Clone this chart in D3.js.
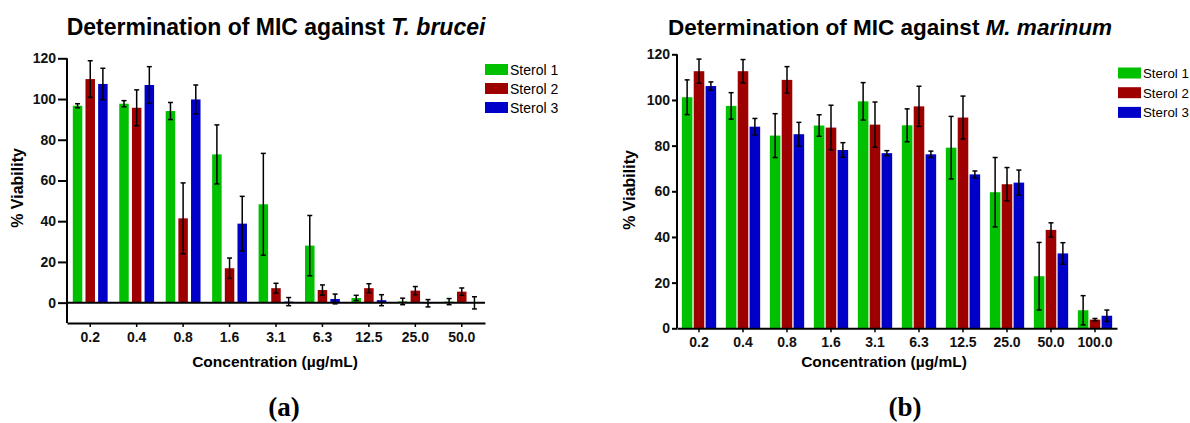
<!DOCTYPE html>
<html>
<head>
<meta charset="utf-8">
<script src="https://cdn.jsdelivr.net/npm/d3@7"></script>
<style>
  body { margin: 0; background: #fff; }
</style>
</head>
<body>
<svg id="fig" width="1190" height="423" style="font-family: Arial, 'Liberation Sans', sans-serif"></svg>
<script>
// concentrations (µg/mL)
const concA = ["0.2", "0.4", "0.8", "1.6", "3.1", "6.3", "12.5", "25.0", "50.0"]
const concB = ["0.2", "0.4", "0.8", "1.6", "3.1", "6.3", "12.5", "25.0", "50.0", "100.0"]
const sterols = ["Sterol 1", "Sterol 2", "Sterol 3"]
const yTicks = [0, 20, 40, 60, 80, 100, 120]

// T. brucei % viability, mean and error
const bruceiS1 = [96.7, 97.7, 94.1, 72.8, 48.3, 28.0, 2.3, 0.6, 0.5]
const bruceiS1Err = [1.0, 1.5, 4.2, 14.5, 25.0, 14.8, 1.3, 1.6, 1.5]
const bruceiS2 = [109.8, 95.7, 41.4, 16.9, 7.1, 6.2, 7.1, 5.9, 5.4]
const bruceiS2Err = [9.0, 8.8, 17.4, 5.0, 2.4, 2.5, 2.2, 2.0, 1.8]
const bruceiS3 = [107.4, 106.9, 99.8, 38.8, 0.5, 1.8, 1.2, -0.3, -0.1]
const bruceiS3Err = [7.7, 9.0, 7.1, 13.4, 2.0, 2.4, 2.7, 1.8, 3.0]

// M. marinum % viability, mean and error
const marinumS1 = [101.2, 97.4, 84.4, 88.8, 99.4, 88.9, 79.1, 59.6, 22.8, 7.9]
const marinumS1Err = [7.6, 5.8, 9.6, 4.7, 8.2, 7.2, 13.7, 15.2, 14.8, 6.4]
const marinumS2 = [112.6, 112.6, 108.8, 87.9, 89.2, 97.2, 92.3, 63.1, 43.1, 3.8]
const marinumS2Err = [5.3, 5.1, 5.8, 9.8, 9.9, 8.8, 9.4, 7.3, 3.1, 0.5]
const marinumS3 = [106.1, 88.3, 85.0, 78.1, 76.7, 76.2, 67.4, 63.8, 32.8, 5.5]
const marinumS3Err = [1.8, 3.6, 5.2, 3.2, 1.1, 1.4, 1.5, 5.5, 4.7, 2.5]

const colors = ["#00c000", "#9e0000", "#0000c8"]

const svg = d3.select("#fig")

function drawChart(cfg) {
    const g = svg.append("g")

    // build rows from the arrays
    let rows = []
    cfg.cats.forEach((c, i) => {
        cfg.series.forEach((s, j) => {
            rows.push({ cat: c, sterol: sterols[j], v: s[i], e: cfg.errs[j][i], k: j })
        })
    })

    /* Scales */
    let x0 = d3.scaleBand()
        .domain(cfg.cats)
        .range(cfg.xRange)
        .paddingInner(cfg.padGroup)
        .paddingOuter(cfg.padGroup / 2)

    let x1 = d3.scaleBand()
        .domain(sterols)
        .range([0, x0.bandwidth()])
        .paddingInner(cfg.padBar)

    let y = d3.scaleLinear()
        .domain(cfg.yDomain)
        .range(cfg.yRange)

    /* Bars */
    g.append("g")
        .selectAll("rect")
        .data(rows)
        .enter()
            .append("rect")
                .attr("fill", (d) => colors[d.k])
                .attr("x", (d) => x0(d.cat) + x1(d.sterol))
                .attr("width", x1.bandwidth())
                .attr("y", (d) => y(Math.max(0, d.v)))
                .attr("height", (d) => Math.abs(y(d.v) - y(0)))

    /* Error bars */
    let eb = g.append("g")
        .attr("stroke", "#000")
        .attr("stroke-width", 1.5)
        .selectAll("g")
        .data(rows)
        .enter()
            .append("g")
                .attr("transform", (d) => "translate(" + (x0(d.cat) + x1(d.sterol) + x1.bandwidth() / 2) + ",0)")
    eb.append("line")
        .attr("y1", (d) => y(d.v + d.e))
        .attr("y2", (d) => y(d.v - d.e))
    eb.append("line")
        .attr("x1", -2.5).attr("x2", 2.5)
        .attr("y1", (d) => y(d.v + d.e)).attr("y2", (d) => y(d.v + d.e))
    eb.append("line")
        .attr("x1", -2.5).attr("x2", 2.5)
        .attr("y1", (d) => y(d.v - d.e)).attr("y2", (d) => y(d.v - d.e))

    /* Zero line (when axis goes below zero) */
    if (cfg.yDomain[0] < 0) {
        g.append("line")
            .attr("x1", cfg.xRange[0]).attr("x2", cfg.xRange[1])
            .attr("y1", y(0)).attr("y2", y(0))
            .attr("stroke", "#000").attr("stroke-width", 2)
    }

    /* Y axis */
    let yAxis = g.append("g")
        .attr("transform", "translate(" + cfg.xRange[0] + ",0)")
        .call(d3.axisLeft(y).tickValues(yTicks).tickSize(cfg.yTickSize).tickPadding(2).tickSizeOuter(0))
    yAxis.select(".domain").attr("stroke-width", 2)
        .attr("d", "M0," + y(cfg.yDomain[1]) + "V" + y(cfg.yDomain[0]))
    yAxis.selectAll(".tick line").attr("stroke-width", 2)

    /* X axis */
    let xAxis = g.append("g")
        .attr("transform", "translate(0," + y(cfg.yDomain[0]) + ")")
        .call(d3.axisBottom(x0).tickSize(4).tickPadding(5).tickSizeOuter(0))
    xAxis.select(".domain").attr("stroke-width", 2)
    xAxis.selectAll(".tick line").attr("stroke-width", 1.5)

    g.selectAll(".tick text")
        .attr("font-family", "Arial, 'Liberation Sans', sans-serif")
        .attr("font-size", 14)
        .attr("font-weight", "bold")
        .attr("fill", "#111")

    /* Titles */
    let title = g.append("text")
        .attr("x", cfg.titleX).attr("y", 35)
        .attr("text-anchor", "middle")
        .attr("font-size", cfg.titleSize).attr("font-weight", "bold")
    title.append("tspan").text("Determination of MIC against ")
    title.append("tspan").attr("font-style", "italic").text(cfg.organism)

    g.append("text")
        .attr("transform", "translate(" + cfg.yLabelX + "," + cfg.yLabelY + ") rotate(-90)")
        .attr("text-anchor", "middle")
        .attr("dominant-baseline", "central")
        .attr("font-size", 16).attr("font-weight", "bold")
        .text("% Viability")

    g.append("text")
        .attr("x", cfg.xLabelX).attr("y", 367)
        .attr("text-anchor", "middle")
        .attr("font-size", 15.5).attr("font-weight", "bold")
        .text("Concentration (\u00b5g/mL)")

    g.append("text")
        .attr("x", cfg.panelX).attr("y", 416)
        .attr("text-anchor", "middle")
        .style("font-family", "'Liberation Serif', 'Times New Roman', serif")
        .attr("font-size", 27).attr("font-weight", "bold")
        .text(cfg.panel)

    /* Legend */
    let leg = g.append("g")
        .selectAll("g")
        .data(sterols)
        .enter()
            .append("g")
                .attr("transform", (d, i) => "translate(" + cfg.legX + "," + (cfg.legY + i * cfg.legStep) + ")")
    leg.append("rect")
        .attr("width", 23).attr("height", 11)
        .attr("fill", (d, i) => colors[i])
    leg.append("text")
        .attr("x", 25).attr("y", 10.5)
        .attr("font-size", cfg.legSize)
        .text((d) => d)
}

drawChart({
    cats: concA,
    series: [bruceiS1, bruceiS2, bruceiS3],
    errs: [bruceiS1Err, bruceiS2Err, bruceiS3Err],
    xRange: [67, 485],
    padGroup: 0.25,
    padBar: 0.25,
    yDomain: [-10, 120],
    yRange: [323, 58.3],
    yTickSize: 9,
    titleX: 276, titleSize: 23,
    organism: "T. brucei",
    yLabelX: 17, yLabelY: 188,
    xLabelX: 275,
    panel: "(a)", panelX: 284,
    legX: 485, legY: 64, legStep: 19, legSize: 14
})

drawChart({
    cats: concB,
    series: [marinumS1, marinumS2, marinumS3],
    errs: [marinumS1Err, marinumS2Err, marinumS3Err],
    xRange: [677, 1117],
    padGroup: 0.22,
    padBar: 0.11,
    yDomain: [0, 120],
    yRange: [328.3, 54.3],
    yTickSize: 5,
    titleX: 890, titleSize: 22.5,
    organism: "M. marinum",
    yLabelX: 629, yLabelY: 190,
    xLabelX: 884,
    panel: "(b)", panelX: 905,
    legX: 1118, legY: 67.5, legStep: 19.7, legSize: 13.3
})
</script>
</body>
</html>
